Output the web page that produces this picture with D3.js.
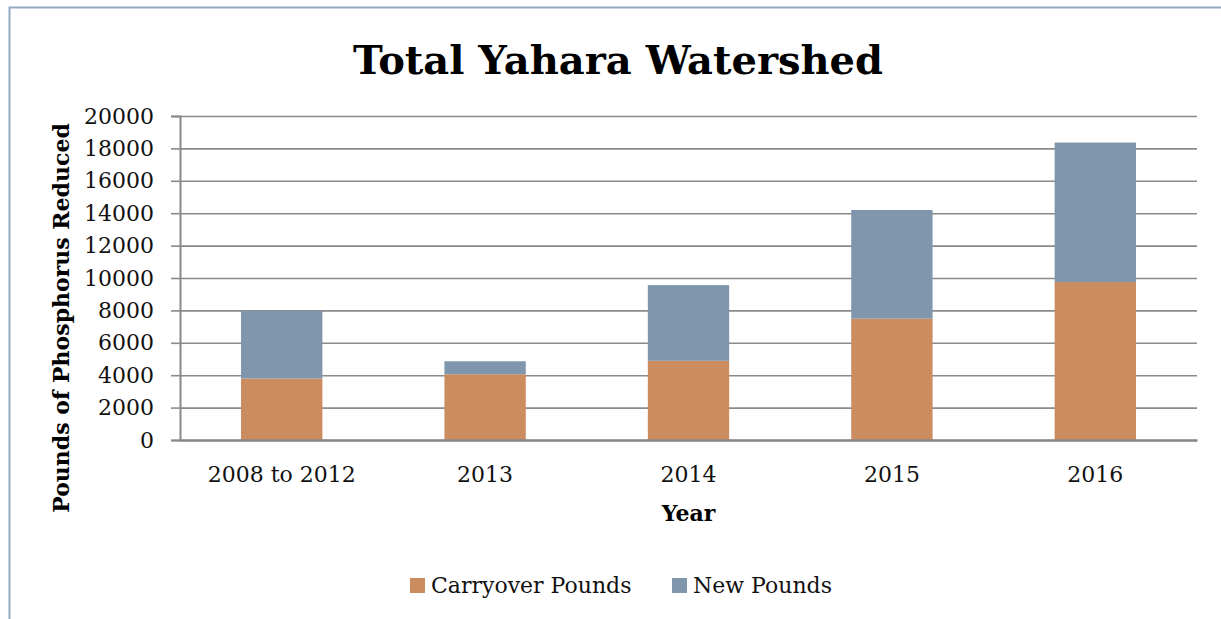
<!DOCTYPE html>
<html>
<head>
<meta charset="utf-8">
<script src="https://cdn.jsdelivr.net/npm/d3@7"></script>
<style>
  html, body { margin: 0; padding: 0; background: #fff; }
  svg { display: block; }
</style>
</head>
<body>
<div id="chart"></div>
<script>
// Data
const years = ["2008 to 2012", "2013", "2014", "2015", "2016"];
const carryoverPounds = [3800, 4060, 4890, 7490, 9750];
const newPounds = [4180, 800, 4670, 6710, 8610];
const seriesNames = ["Carryover Pounds", "New Pounds"];
const seriesColors = ["#cb8c60", "#7f96ad"];
const yTicks = [0, 2000, 4000, 6000, 8000, 10000, 12000, 14000, 16000, 18000, 20000];

const width = 1221;
const height = 619;
const marginTop = 116;
const marginRight = 24;
const marginBottom = 179;
const marginLeft = 180;
const font = "'DejaVu Serif', serif";

const svg = d3.select("#chart").append("svg")
    .attr("width", width)
    .attr("height", height)
    .attr("viewBox", [0, 0, width, height]);

// Chart area border (cut off at right and bottom in the reference)
svg.append("path")
    .attr("d", `M9.5,${height} V7.5 H${width}`)
    .attr("fill", "none")
    .attr("stroke", "#93a9c2")
    .attr("stroke-width", 2);

// Scales
const x = d3.scaleBand()
    .domain(years)
    .range([marginLeft, width - marginRight])
    .paddingInner(0.6)
    .paddingOuter(0.3);

const y = d3.scaleLinear()
    .domain([0, 20000])
    .range([height - marginBottom, marginTop]);

// Gridlines
const grid = svg.append("g")
    .attr("transform", `translate(${marginLeft},0)`)
    .call(d3.axisLeft(y).tickValues(yTicks).tickSize(-(width - marginRight - marginLeft)).tickFormat(""));
grid.select(".domain").remove();
grid.selectAll("line")
    .attr("stroke", "#8a8a8a")
    .attr("stroke-width", 1.6);

// Stacked bars
const rows = years.map((yr, i) => ({ year: yr, carry: carryoverPounds[i], added: newPounds[i] }));
const stack = d3.stack().keys(["carry", "added"])(rows);

svg.append("g")
  .selectAll("g")
  .data(stack)
  .join("g")
    .attr("fill", (d, i) => seriesColors[i])
  .selectAll("rect")
  .data(d => d)
  .join("rect")
    .attr("x", d => x(d.data.year))
    .attr("y", d => y(d[1]))
    .attr("width", x.bandwidth())
    .attr("height", d => y(d[0]) - y(d[1]));

// Y axis
const yAxis = svg.append("g")
    .attr("transform", `translate(${marginLeft},0)`)
    .call(d3.axisLeft(y).tickValues(yTicks).tickSize(9).tickPadding(17).tickFormat(d3.format("d")));
yAxis.select(".domain").attr("stroke", "#888").attr("stroke-width", 2);
yAxis.selectAll(".tick line").attr("stroke", "#8a8a8a").attr("stroke-width", 1.6);
yAxis.selectAll("text")
    .attr("font-family", font)
    .attr("font-size", "22px")
    .attr("fill", "#111");

// X axis
const xAxis = svg.append("g")
    .attr("transform", `translate(0,${height - marginBottom})`)
    .call(d3.axisBottom(x).tickSize(0).tickPadding(26));
xAxis.select(".domain").attr("stroke", "#888").attr("stroke-width", 2.5);
xAxis.selectAll("text")
    .attr("font-family", font)
    .attr("font-size", "22px")
    .attr("fill", "#111");

// Title
svg.append("text")
    .attr("x", 618)
    .attr("y", 74)
    .attr("text-anchor", "middle")
    .attr("font-family", font)
    .attr("font-weight", "bold")
    .attr("font-size", "40px")
    .attr("fill", "#000")
    .text("Total Yahara Watershed");

// Axis titles
svg.append("text")
    .attr("x", (marginLeft + width - marginRight) / 2)
    .attr("y", 521)
    .attr("text-anchor", "middle")
    .attr("font-family", font)
    .attr("font-weight", "bold")
    .attr("font-size", "22px")
    .attr("fill", "#000")
    .text("Year");

svg.append("text")
    .attr("transform", "translate(69,318) rotate(-90)")
    .attr("text-anchor", "middle")
    .attr("font-family", font)
    .attr("font-weight", "bold")
    .attr("font-size", "22px")
    .attr("fill", "#000")
    .text("Pounds of Phosphorus Reduced");

// Legend
const legendItems = [{ x: 410 }, { x: 672 }];
const legend = svg.append("g");
seriesNames.forEach((name, i) => {
  const g = legend.append("g").attr("transform", `translate(${legendItems[i].x},578)`);
  g.append("rect")
      .attr("width", 15)
      .attr("height", 15)
      .attr("fill", seriesColors[i]);
  g.append("text")
      .attr("x", 21)
      .attr("y", 15)
      .attr("font-family", font)
      .attr("font-size", "22px")
      .attr("fill", "#111")
      .text(name);
});
</script>
</body>
</html>
